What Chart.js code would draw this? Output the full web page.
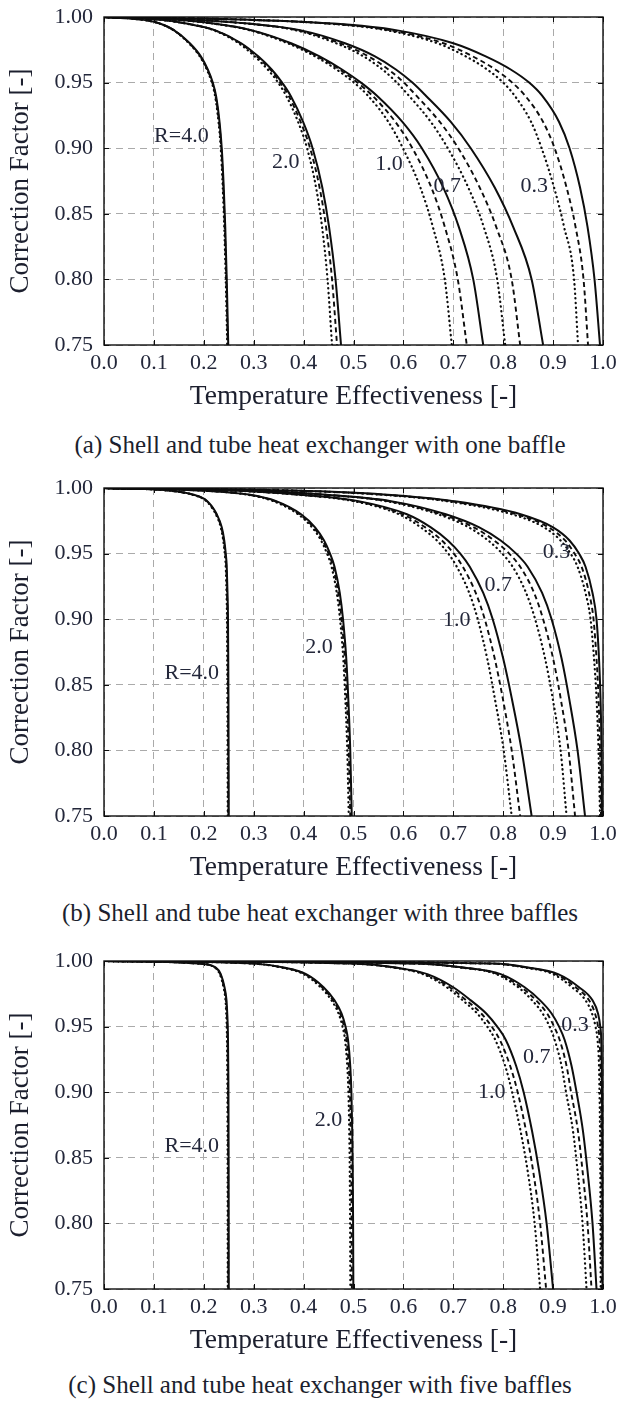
<!DOCTYPE html>
<html>
<head>
<meta charset="utf-8">
<script src="https://cdn.jsdelivr.net/npm/chart.js@4/dist/chart.umd.min.js"></script>
<style>
  body { margin: 0; background: #fff; width: 622px; height: 1401px; position: relative; overflow: hidden; font-family: "Liberation Serif", serif; color: #1c1f2e; }
  .panel { position: absolute; left: 0; width: 622px; height: 470px; }
  .panel canvas { position: absolute; left: 0; top: 0; }
  .caption { position: absolute; left: 0; width: 640px; text-align: center; font-size: 25px; line-height: 28px; white-space: nowrap; }
</style>
</head>
<body>
<div class="panel" style="top:0px"><canvas id="chartA" width="622" height="420"></canvas><div class="caption" style="top:431px">(a) Shell and tube heat exchanger with one baffle</div></div>
<div class="panel" style="top:471px"><canvas id="chartB" width="622" height="420"></canvas><div class="caption" style="top:428px">(b) Shell and tube heat exchanger with three baffles</div></div>
<div class="panel" style="top:944px"><canvas id="chartC" width="622" height="420"></canvas><div class="caption" style="top:427px">(c) Shell and tube heat exchanger with five baffles</div></div>
<script>
const fLevels = [1.0, 0.998, 0.995, 0.99, 0.98, 0.97, 0.96, 0.95, 0.94, 0.92, 0.90, 0.87, 0.84, 0.80, 0.75];
const xTickValues = [0, 0.1, 0.2, 0.3, 0.4, 0.5, 0.6, 0.7, 0.8, 0.9, 1.0];
const yTickValues = [0.75, 0.80, 0.85, 0.90, 0.95, 1.00];
const curveLabelText = ['R=4.0', '2.0', '1.0', '0.7', '0.3'];

// (a) one baffle
const oneR40Solid  = [0, 0.075, 0.112, 0.140, 0.172, 0.194, 0.208, 0.218, 0.2245, 0.2315, 0.2360, 0.2400, 0.2430, 0.2460, 0.2490];
const oneR40Dashed = [0, 0.075, 0.112, 0.140, 0.171, 0.193, 0.207, 0.217, 0.2235, 0.2305, 0.2350, 0.2390, 0.2420, 0.2450, 0.2480];
const oneR40Dotted = [0, 0.075, 0.111, 0.139, 0.170, 0.192, 0.206, 0.216, 0.2225, 0.2295, 0.2340, 0.2380, 0.2410, 0.2440, 0.2470];
const oneR20Solid  = [0, 0.11, 0.165, 0.222, 0.275, 0.309, 0.336, 0.357, 0.374, 0.399, 0.418, 0.4375, 0.451, 0.464, 0.475];
const oneR20Dashed = [0, 0.11, 0.165, 0.221, 0.273, 0.306, 0.333, 0.353, 0.370, 0.394, 0.413, 0.432, 0.445, 0.457, 0.467];
const oneR20Dotted = [0, 0.11, 0.164, 0.219, 0.270, 0.302, 0.328, 0.349, 0.365, 0.389, 0.407, 0.425, 0.437, 0.448, 0.457];
const oneR10Solid  = [0, 0.14, 0.22, 0.295, 0.375, 0.432, 0.477, 0.515, 0.547, 0.598, 0.637, 0.680, 0.711, 0.740, 0.760];
const oneR10Dashed = [0, 0.14, 0.219, 0.293, 0.372, 0.428, 0.472, 0.508, 0.538, 0.584, 0.618, 0.656, 0.683, 0.709, 0.727];
const oneR10Dotted = [0, 0.14, 0.218, 0.291, 0.368, 0.423, 0.466, 0.501, 0.529, 0.570, 0.599, 0.634, 0.659, 0.683, 0.697];
const oneR07Solid  = [0, 0.17, 0.29, 0.393, 0.483, 0.543, 0.585, 0.618, 0.645, 0.695, 0.735, 0.783, 0.820, 0.857, 0.880];
const oneR07Dashed = [0, 0.17, 0.287, 0.387, 0.473, 0.530, 0.570, 0.601, 0.626, 0.673, 0.710, 0.753, 0.786, 0.817, 0.834];
const oneR07Dotted = [0, 0.17, 0.285, 0.383, 0.465, 0.520, 0.558, 0.587, 0.611, 0.655, 0.689, 0.730, 0.761, 0.788, 0.804];
const oneR03Solid  = [0, 0.28, 0.46, 0.585, 0.700, 0.765, 0.815, 0.852, 0.878, 0.912, 0.933, 0.954, 0.969, 0.983, 0.994];
const oneR03Dashed = [0, 0.28, 0.452, 0.572, 0.680, 0.739, 0.784, 0.818, 0.844, 0.880, 0.903, 0.927, 0.945, 0.961, 0.970];
const oneR03Dotted = [0, 0.28, 0.448, 0.565, 0.668, 0.725, 0.768, 0.800, 0.823, 0.856, 0.877, 0.902, 0.922, 0.942, 0.950];
const oneLabelP = [0.155, 0.364, 0.571, 0.688, 0.862];
const oneLabelF = [0.909, 0.889, 0.888, 0.871, 0.871];

// (b) three baffles
const threeR40Solid  = [0, 0.13, 0.178, 0.207, 0.226, 0.236, 0.241, 0.244, 0.246, 0.2475, 0.2485, 0.2490, 0.2494, 0.2497, 0.2500];
const threeR40Dashed = [0, 0.13, 0.177, 0.206, 0.225, 0.235, 0.240, 0.243, 0.245, 0.2465, 0.2475, 0.2480, 0.2484, 0.2487, 0.2490];
const threeR40Dotted = [0, 0.13, 0.176, 0.205, 0.224, 0.234, 0.239, 0.242, 0.244, 0.2455, 0.2465, 0.2470, 0.2474, 0.2477, 0.2480];
const threeR20Solid  = [0, 0.20, 0.29, 0.345, 0.395, 0.423, 0.441, 0.453, 0.462, 0.4725, 0.479, 0.4855, 0.4895, 0.4935, 0.4965];
const threeR20Dashed = [0, 0.20, 0.288, 0.342, 0.392, 0.420, 0.438, 0.450, 0.459, 0.4695, 0.476, 0.4825, 0.4865, 0.4905, 0.4935];
const threeR20Dotted = [0, 0.20, 0.286, 0.339, 0.389, 0.417, 0.435, 0.447, 0.456, 0.4665, 0.473, 0.4795, 0.4835, 0.4875, 0.4905];
const threeR10Solid  = [0, 0.26, 0.39, 0.51, 0.607, 0.655, 0.689, 0.714, 0.733, 0.760, 0.779, 0.800, 0.817, 0.837, 0.857];
const threeR10Dashed = [0, 0.26, 0.387, 0.504, 0.598, 0.644, 0.677, 0.701, 0.719, 0.745, 0.763, 0.783, 0.799, 0.817, 0.834];
const threeR10Dotted = [0, 0.26, 0.385, 0.500, 0.591, 0.635, 0.667, 0.690, 0.707, 0.732, 0.749, 0.768, 0.783, 0.801, 0.817];
const threeR07Solid  = [0, 0.30, 0.44, 0.575, 0.685, 0.752, 0.795, 0.826, 0.849, 0.878, 0.897, 0.917, 0.932, 0.949, 0.964];
const threeR07Dashed = [0, 0.30, 0.437, 0.569, 0.676, 0.741, 0.782, 0.812, 0.834, 0.862, 0.880, 0.900, 0.915, 0.931, 0.944];
const threeR07Dotted = [0, 0.30, 0.435, 0.565, 0.669, 0.731, 0.770, 0.798, 0.819, 0.846, 0.864, 0.884, 0.899, 0.915, 0.927];
const threeR03Solid  = [0, 0.38, 0.56, 0.70, 0.835, 0.900, 0.933, 0.952, 0.965, 0.979, 0.987, 0.992, 0.995, 0.997, 0.998];
const threeR03Dashed = [0, 0.38, 0.556, 0.693, 0.826, 0.891, 0.924, 0.943, 0.957, 0.972, 0.981, 0.987, 0.991, 0.994, 0.996];
const threeR03Dotted = [0, 0.38, 0.552, 0.686, 0.817, 0.882, 0.915, 0.935, 0.949, 0.965, 0.975, 0.982, 0.987, 0.991, 0.994];
const threeLabelP = [0.176, 0.431, 0.707, 0.790, 0.907];
const threeLabelF = [0.859, 0.879, 0.899, 0.926, 0.951];

// (c) five baffles
const fiveR40Solid  = [0, 0.19, 0.224, 0.234, 0.2415, 0.2455, 0.2470, 0.2480, 0.2485, 0.2490, 0.2494, 0.2496, 0.2498, 0.2499, 0.2500];
const fiveR40Dashed = [0, 0.19, 0.223, 0.233, 0.2405, 0.2445, 0.2460, 0.2470, 0.2475, 0.2480, 0.2484, 0.2486, 0.2488, 0.2489, 0.2490];
const fiveR40Dotted = [0, 0.19, 0.222, 0.232, 0.2395, 0.2435, 0.2450, 0.2460, 0.2465, 0.2470, 0.2474, 0.2476, 0.2478, 0.2479, 0.2480];
const fiveR20Solid  = [0, 0.30, 0.36, 0.405, 0.440, 0.462, 0.476, 0.484, 0.489, 0.4935, 0.4958, 0.4975, 0.4985, 0.4992, 0.4997];
const fiveR20Dashed = [0, 0.30, 0.358, 0.403, 0.437, 0.459, 0.473, 0.481, 0.486, 0.4905, 0.4928, 0.4945, 0.4955, 0.4962, 0.4967];
const fiveR20Dotted = [0, 0.30, 0.356, 0.400, 0.434, 0.456, 0.470, 0.478, 0.483, 0.4875, 0.4898, 0.4915, 0.4925, 0.4932, 0.4937];
const fiveR10Solid  = [0, 0.50, 0.585, 0.648, 0.700, 0.735, 0.766, 0.788, 0.805, 0.826, 0.841, 0.858, 0.872, 0.887, 0.900];
const fiveR10Dashed = [0, 0.50, 0.582, 0.643, 0.693, 0.726, 0.756, 0.777, 0.793, 0.814, 0.829, 0.846, 0.860, 0.874, 0.886];
const fiveR10Dotted = [0, 0.50, 0.580, 0.639, 0.687, 0.719, 0.748, 0.768, 0.784, 0.804, 0.818, 0.835, 0.849, 0.863, 0.874];
const fiveR07Solid  = [0, 0.63, 0.72, 0.795, 0.843, 0.874, 0.897, 0.912, 0.923, 0.937, 0.947, 0.960, 0.969, 0.979, 0.987];
const fiveR07Dashed = [0, 0.63, 0.717, 0.790, 0.836, 0.866, 0.888, 0.902, 0.913, 0.927, 0.936, 0.950, 0.959, 0.969, 0.977];
const fiveR07Dotted = [0, 0.63, 0.715, 0.786, 0.830, 0.858, 0.879, 0.893, 0.903, 0.917, 0.926, 0.940, 0.949, 0.959, 0.967];
const fiveR03Solid  = [0, 0.78, 0.85, 0.910, 0.952, 0.979, 0.990, 0.9945, 0.9965, 0.9975, 0.9980, 0.9984, 0.9987, 0.9989, 0.9990];
const fiveR03Dashed = [0, 0.78, 0.847, 0.905, 0.945, 0.972, 0.984, 0.9900, 0.9930, 0.9950, 0.9960, 0.9965, 0.9968, 0.9970, 0.9972];
const fiveR03Dotted = [0, 0.78, 0.844, 0.900, 0.938, 0.965, 0.978, 0.9850, 0.9890, 0.9920, 0.9930, 0.9940, 0.9946, 0.9950, 0.9953];
const fiveLabelP = [0.176, 0.450, 0.777, 0.867, 0.944];
const fiveLabelF = [0.859, 0.879, 0.900, 0.927, 0.951];

const FONT = '"Liberation Serif", "Times New Roman", serif';
const INK = '#0d0d0d';
const TEXT = '#23273a';

const lineStyles = {
  solid:  { borderDash: [], borderWidth: 2, borderCapStyle: 'butt' },
  dashed: { borderDash: [5, 3.5], borderWidth: 1.9, borderCapStyle: 'butt' },
  dotted: { borderDash: [0.4, 4.3], borderWidth: 2.2, borderCapStyle: 'round' },
};

function curve(pValues, style) {
  return Object.assign({
    data: pValues.map((p, i) => ({ x: p, y: fLevels[i] })),
    borderColor: INK,
    pointRadius: 0,
    cubicInterpolationMode: 'monotone',
    fill: false,
  }, lineStyles[style]);
}

// frame, inward tick marks and the R labels
const framePlugin = {
  id: 'frame',
  afterDatasetsDraw(chart, args, opts) {
    const { ctx, chartArea: a, scales } = chart;
    ctx.save();
    ctx.strokeStyle = INK;
    ctx.lineWidth = 1;
    ctx.beginPath();
    xTickValues.forEach(v => {
      const x = Math.round(scales.x.getPixelForValue(v)) + 0.5;
      ctx.moveTo(x, a.bottom); ctx.lineTo(x, a.bottom - 5);
      ctx.moveTo(x, a.top); ctx.lineTo(x, a.top + 5);
    });
    yTickValues.forEach(v => {
      const y = Math.round(scales.y.getPixelForValue(v)) + 0.5;
      ctx.moveTo(a.left, y); ctx.lineTo(a.left + 5, y);
      ctx.moveTo(a.right, y); ctx.lineTo(a.right - 5, y);
    });
    ctx.stroke();
    ctx.lineWidth = 1.4;
    ctx.strokeRect(a.left, a.top, a.right - a.left, a.bottom - a.top);

    ctx.fillStyle = TEXT;
    ctx.font = '22px ' + FONT;
    ctx.textAlign = 'center';
    ctx.textBaseline = 'middle';
    opts.labelP.forEach((p, i) => {
      ctx.fillText(curveLabelText[i], scales.x.getPixelForValue(p), scales.y.getPixelForValue(opts.labelF[i]));
    });
    ctx.restore();
  }
};

function makePanel(canvasId, curves, labelP, labelF) {
  const datasets = curves.map(c => curve(c[0], c[1]));
  return new Chart(document.getElementById(canvasId), {
    type: 'line',
    data: { datasets },
    options: {
      responsive: false,
      animation: false,
      devicePixelRatio: 1,
      layout: { padding: { left: 0, right: 19, top: 17, bottom: 0 } },
      plugins: { legend: { display: false }, tooltip: { enabled: false }, frame: { labelP, labelF } },
      scales: {
        x: {
          type: 'linear', min: 0, max: 1,
          afterBuildTicks: s => { s.ticks = xTickValues.map(v => ({ value: v })); },
          afterFit: s => { s.height = 75; s.paddingLeft = 0; s.paddingRight = 0; },
          ticks: { callback: v => v.toFixed(1), font: { family: FONT, size: 22 }, color: TEXT, padding: 5, maxRotation: 0, autoSkip: false },
          grid: { color: '#aaaaaa', lineWidth: 1, drawTicks: false },
          border: { display: false, dash: [7, 5] },
          title: { display: true, text: 'Temperature Effectiveness [-]', font: { family: FONT, size: 27.5 }, color: '#1c1f2e', padding: { top: 0, bottom: 7 } }
        },
        y: {
          type: 'linear', min: 0.75, max: 1.0,
          afterBuildTicks: s => { s.ticks = yTickValues.map(v => ({ value: v })); },
          afterFit: s => { s.width = 104; s.paddingTop = 0; s.paddingBottom = 0; },
          ticks: { callback: v => v.toFixed(2), font: { family: FONT, size: 22 }, color: TEXT, padding: 11, autoSkip: false },
          grid: { color: '#aaaaaa', lineWidth: 1, drawTicks: false },
          border: { display: false, dash: [7, 5] },
          title: { display: true, text: 'Correction Factor [-]', font: { family: FONT, size: 27 }, color: '#1c1f2e', padding: { top: 5, bottom: 0 } }
        }
      }
    },
    plugins: [framePlugin]
  });
}

makePanel('chartA', [
  [oneR40Solid, 'solid'], [oneR40Dashed, 'dashed'], [oneR40Dotted, 'dotted'],
  [oneR20Solid, 'solid'], [oneR20Dashed, 'dashed'], [oneR20Dotted, 'dotted'],
  [oneR10Solid, 'solid'], [oneR10Dashed, 'dashed'], [oneR10Dotted, 'dotted'],
  [oneR07Solid, 'solid'], [oneR07Dashed, 'dashed'], [oneR07Dotted, 'dotted'],
  [oneR03Solid, 'solid'], [oneR03Dashed, 'dashed'], [oneR03Dotted, 'dotted'],
], oneLabelP, oneLabelF);

makePanel('chartB', [
  [threeR40Solid, 'solid'], [threeR40Dashed, 'dashed'], [threeR40Dotted, 'dotted'],
  [threeR20Solid, 'solid'], [threeR20Dashed, 'dashed'], [threeR20Dotted, 'dotted'],
  [threeR10Solid, 'solid'], [threeR10Dashed, 'dashed'], [threeR10Dotted, 'dotted'],
  [threeR07Solid, 'solid'], [threeR07Dashed, 'dashed'], [threeR07Dotted, 'dotted'],
  [threeR03Solid, 'solid'], [threeR03Dashed, 'dashed'], [threeR03Dotted, 'dotted'],
], threeLabelP, threeLabelF);

makePanel('chartC', [
  [fiveR40Solid, 'solid'], [fiveR40Dashed, 'dashed'], [fiveR40Dotted, 'dotted'],
  [fiveR20Solid, 'solid'], [fiveR20Dashed, 'dashed'], [fiveR20Dotted, 'dotted'],
  [fiveR10Solid, 'solid'], [fiveR10Dashed, 'dashed'], [fiveR10Dotted, 'dotted'],
  [fiveR07Solid, 'solid'], [fiveR07Dashed, 'dashed'], [fiveR07Dotted, 'dotted'],
  [fiveR03Solid, 'solid'], [fiveR03Dashed, 'dashed'], [fiveR03Dotted, 'dotted'],
], fiveLabelP, fiveLabelF);
</script>
</body>
</html>
